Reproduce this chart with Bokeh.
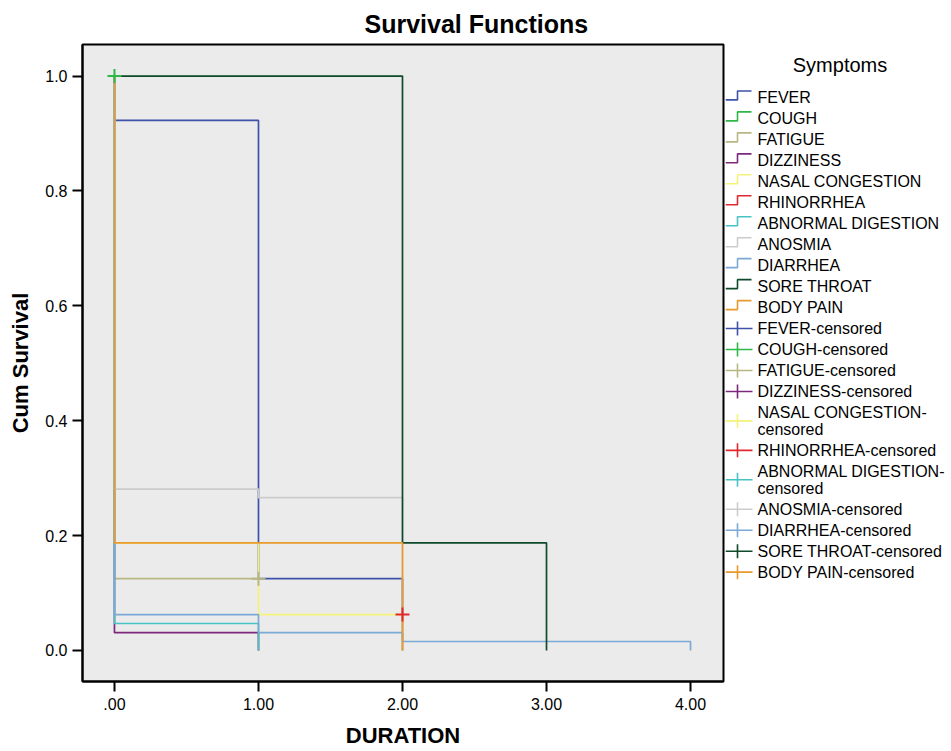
from bokeh.plotting import figure
from bokeh.models import Range1d, FixedTicker, PrintfTickFormatter
from bokeh.layouts import row
from bokeh.core.properties import value
from bokeh.embed import file_html
from bokeh.resources import INLINE

FONT = "Liberation Sans"

# ---------------- data ----------------
symptoms = ["FEVER", "COUGH", "FATIGUE", "DIZZINESS", "NASAL CONGESTION",
            "RHINORRHEA", "ABNORMAL DIGESTION", "ANOSMIA", "DIARRHEA",
            "SORE THROAT", "BODY PAIN"]
colors = ["#3E52A8", "#2EB848", "#B8B783", "#7C287D", "#F5F27A",
          "#E0282E", "#48C2C5", "#CCCCCC", "#7AAAD5", "#0F4A2A", "#E89A2C"]

# event times and cumulative survival after each event
event_times = [[0, 1, 2], [], [0], [0, 1], [0, 1, 2], [], [0, 1], [0, 1, 2],
               [0, 1, 2, 4], [2, 3], [0, 2]]
event_surv = [[0.923, 0.125, 0.0], [], [0.125], [0.031, 0.0],
              [0.1875, 0.0625, 0.0], [], [0.047, 0.0], [0.281, 0.266, 0.0],
              [0.0625, 0.031, 0.0156, 0.0], [0.1875, 0.0], [0.1875, 0.0]]
# censored observations
censor_times = [[], [0], [1], [], [], [2], [], [], [], [], []]
censor_surv = [[], [1.0], [0.125], [], [], [0.0625], [], [], [], [], []]

x_ticks = [0, 1, 2, 3, 4]
x_tick_labels = [".00", "1.00", "2.00", "3.00", "4.00"]
y_ticks = [0.0, 0.2, 0.4, 0.6, 0.8, 1.0]

title_text = "Survival Functions"
x_label = "DURATION"
y_label = "Cum Survival"
legend_title = "Symptoms"

# ---------------- layout constants (canvas px) ----------------
H = 750
MAIN_W = 725
LEG_W = 226
FRAME_LEFT = 82
FRAME_TOP = 44
FRAME_BOTTOM = 682

# ---------------- main plot ----------------
p = figure(width=MAIN_W, height=H,
           x_range=Range1d(-0.222, 4.229), y_range=Range1d(-0.054, 1.055),
           output_backend="svg", toolbar_location=None,
           min_border_left=FRAME_LEFT, min_border_right=2,
           min_border_top=FRAME_TOP, min_border_bottom=H - FRAME_BOTTOM)
p.background_fill_color = "#ebebeb"
p.border_fill_color = "white"
p.outline_line_color = "black"
p.outline_line_width = 2
p.xgrid.visible = False
p.ygrid.visible = False

p.title.text = title_text
p.title.text_font = FONT
p.title.text_font_size = "25px"
p.title.text_font_style = "bold"
p.title.text_color = "black"
p.title.align = "left"
p.title.offset = 282
p.title.standoff = 13

for ax in (p.xaxis[0], p.yaxis[0]):
    ax.axis_line_color = "black"
    ax.axis_line_width = 2
    ax.major_tick_line_color = "black"
    ax.major_tick_line_width = 2
    ax.major_tick_out = 10
    ax.major_tick_in = 0
    ax.minor_tick_line_color = None
    ax.major_label_text_font = FONT
    ax.major_label_text_font_size = "16px"
    ax.major_label_text_color = "black"
    ax.axis_label_text_font = FONT
    ax.axis_label_text_font_size = "22px"
    ax.axis_label_text_font_style = "bold"
    ax.axis_label_text_color = "black"

p.xaxis.ticker = FixedTicker(ticks=x_ticks)
p.xaxis.major_label_overrides = {t: l for t, l in zip(x_ticks, x_tick_labels)}
p.xaxis.major_label_standoff = 6
p.xaxis.axis_label = x_label
p.xaxis.axis_label_standoff = 10

p.yaxis.ticker = FixedTicker(ticks=y_ticks)
p.yaxis.formatter = PrintfTickFormatter(format="%.1f")
p.yaxis.major_label_standoff = 5
p.yaxis.axis_label = y_label
p.yaxis.axis_label_standoff = 9

# step curves
for i, name in enumerate(symptoms):
    ts, ss = event_times[i], event_surv[i]
    if not ts:
        continue
    xs, ys = [0.0], [1.0]
    prev = 1.0
    for t, s in zip(ts, ss):
        xs += [t, t]
        ys += [prev, s]
        prev = s
    if censor_times[i] and max(censor_times[i]) > xs[-1]:
        xs.append(max(censor_times[i]))
        ys.append(prev)
    p.line(xs, ys, line_color=colors[i], line_width=1.7)

# censored marks
for i, name in enumerate(symptoms):
    if censor_times[i]:
        p.scatter(censor_times[i], censor_surv[i], marker="cross", size=14,
                  line_color=colors[i], line_width=2)

# ---------------- legend panel ----------------
leg = figure(width=LEG_W, height=H, x_range=Range1d(0, LEG_W),
             y_range=Range1d(FRAME_BOTTOM, FRAME_TOP),
             output_backend="svg", toolbar_location=None,
             min_border_left=0, min_border_right=0,
             min_border_top=FRAME_TOP, min_border_bottom=H - FRAME_BOTTOM,
             x_axis_location=None, y_axis_location=None)
leg.outline_line_color = None
leg.xgrid.visible = False
leg.ygrid.visible = False
leg.background_fill_color = "white"
leg.border_fill_color = "white"

leg.text(x=[114.5], y=[65], text=[legend_title], text_font=value(FONT),
         text_font_size="20px", text_align="center", text_baseline="middle",
         text_color="black")

cursor = 87.0
tx, ty, tt = [], [], []
step_xs, step_ys, step_cols = [], [], []
cen_xs, cen_ys, cen_cols = [], [], []
for i, name in enumerate(symptoms):
    c = cursor + 10.5
    step_xs.append([0, 12, 12, 26])
    step_ys.append([c + 2, c + 2, c - 7, c - 7])
    step_cols.append(colors[i])
    tx.append(32); ty.append(c); tt.append(name)
    cursor += 21
for i, name in enumerate(symptoms):
    label = name + "-censored"
    if len(label) > 22:
        l1 = cursor + 10.5
        l2 = l1 + 17
        c = (l1 + l2) / 2
        tx += [32, 32]; ty += [l1, l2]; tt += [name + "-", "censored"]
        cursor += 38
    else:
        c = cursor + 10.5
        tx.append(32); ty.append(c); tt.append(label)
        cursor += 21
    cen_xs += [[0, 27], [12, 12]]
    cen_ys += [[c, c], [c - 7, c + 7]]
    cen_cols += [colors[i], colors[i]]

leg.multi_line(step_xs, step_ys, line_color=step_cols, line_width=1.6)
leg.multi_line(cen_xs, cen_ys, line_color=cen_cols, line_width=1.6)
leg.text(x=tx, y=ty, text=tt, text_font=value(FONT), text_font_size="16px",
         text_align="left", text_baseline="middle", text_color="black")

layout = row(p, leg)
open("out.html", "w").write(file_html(layout, INLINE))
